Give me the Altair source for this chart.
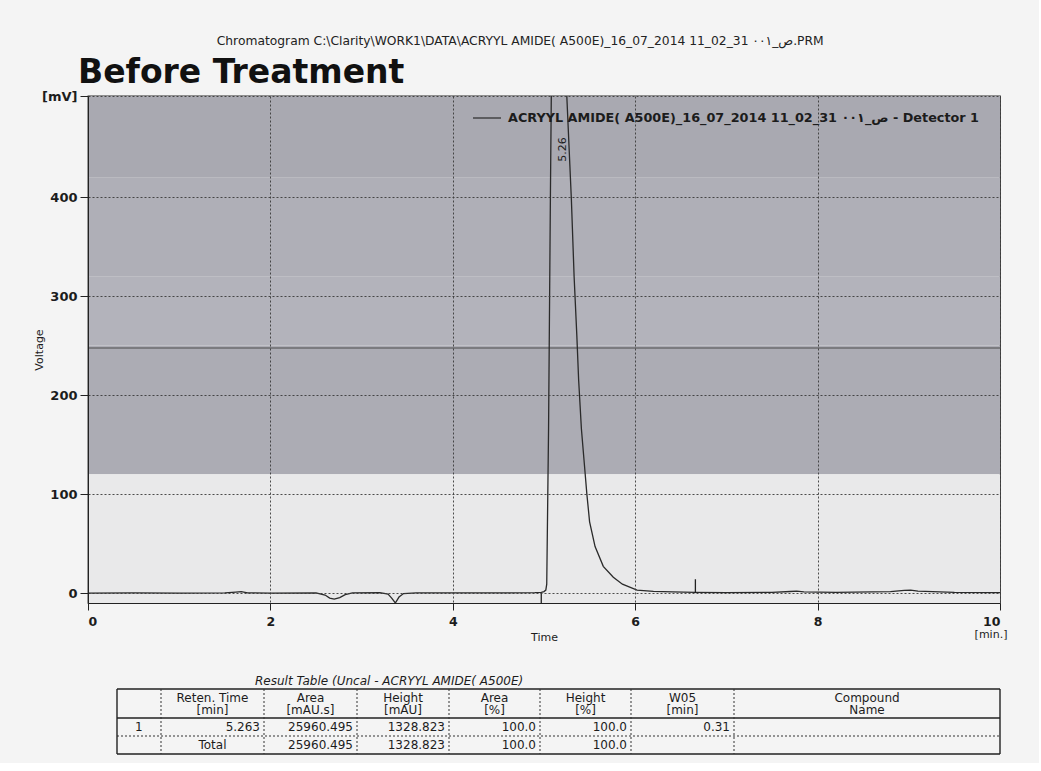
import altair as alt
import pandas as pd

# ---------------- data ----------------
time_min = [0.0, 0.5, 1.0, 1.5, 1.62, 1.68, 1.75, 2.0, 2.5, 2.6, 2.65, 2.7, 2.76, 2.82, 2.9,
            3.2, 3.29, 3.33, 3.37, 3.41, 3.46, 3.6, 4.0, 4.5, 4.9, 4.97, 5.0, 5.02, 5.03,
            5.05, 5.07, 5.08, 5.165, 5.25, 5.30, 5.33, 5.36, 5.38, 5.41, 5.45, 5.47, 5.50,
            5.56, 5.65, 5.76, 5.86, 6.02, 6.2, 6.41, 6.66, 7.0, 7.5, 7.7, 7.77, 7.85, 8.2,
            8.8, 8.95, 9.02, 9.1, 9.5, 10.0]
signal_mv = [0.0, 0.3, 0.0, 0.2, 1.0, 1.5, 0.3, 0.0, 0.2, -2.0, -5.0, -6.0, -4.5, -1.5, 0.3,
             0.5, -1.0, -5.0, -10.0, -4.0, -0.5, 0.2, 0.3, 0.2, 0.5, 0.8, 1.5, 3.0, 9.0,
             166.0, 398.0, 502.0, 1328.0, 502.0, 398.0, 320.0, 260.0, 215.0, 166.0, 122.0,
             100.0, 72.0, 47.0, 27.0, 16.0, 9.0, 3.0, 1.8, 1.2, 0.8, 0.5, 0.8, 1.6, 2.0,
             1.2, 0.8, 1.5, 2.8, 3.0, 2.0, 0.8, 0.5]
series_name = "ACRYYL AMIDE( A500E)_16_07_2014 11_02_31 ص_٠٠١ - Detector 1"

peak_rt = [5.26]
peak_text = ["5.26"]
peak_text_mv = [448]

marker_t = [4.97, 6.66]
marker_from = [0, 0]
marker_to = [-10, 14]

scan_line_mv = [247.5]

band_lo = [120, 250, 320, 420, -10]
band_hi = [250, 320, 420, 502, 120]
band_col = ["#acacb4", "#b3b3bb", "#afafb7", "#a9a9b1", "#e9e9ea"]

x_ticks = [0, 2, 4, 6, 8, 10]
y_ticks = [0, 100, 200, 300, 400, 502]

hdr1 = ["", "Reten. Time", "Area", "Height", "Area", "Height", "W05", "Compound"]
hdr2 = ["", "[min]", "[mAU.s]", "[mAU]", "[%]", "[%]", "[min]", "Name"]
row1 = ["1", "5.263", "25960.495", "1328.823", "100.0", "100.0", "0.31", ""]
row2 = ["", "Total", "25960.495", "1328.823", "100.0", "100.0", "", ""]
table_title = "Result Table (Uncal - ACRYYL AMIDE( A500E)"

main_title = "Before Treatment"
top_title = r"Chromatogram C:\Clarity\WORK1\DATA\ACRYYL AMIDE( A500E)_16_07_2014 11_02_31 ص_٠٠١.PRM"

# ---------------- layout ----------------
W, H = 912, 507
col_edges = [29, 73, 176, 269, 361, 452, 543, 646, 912]
TW, TH = 912, 82
row_lines = [16, 45, 63, 81]

FONT = "DejaVu Sans"
INK = "#1c1c1c"

xs = alt.Scale(domain=[0, 10], nice=False)
ys = alt.Scale(domain=[-10, 502], nice=False)

x_axis = alt.Axis(values=x_ticks, title="Time", format="d", grid=True,
                  gridDash=[2, 2], gridColor="#3a3a3a", gridOpacity=0.9,
                  tickSize=7, labelPadding=5, titlePadding=4,
                  labelFontWeight="bold", labelFontSize=12.5, labelFont=FONT,
                  titleFont=FONT, titleFontSize=11, titleFontWeight="normal",
                  labelColor=INK, titleColor=INK, tickColor="#222",
                  domainColor="#222", zindex=1)
y_axis = alt.Axis(values=y_ticks, title="Voltage", grid=True,
                  gridDash=[2, 2], gridColor="#3a3a3a", gridOpacity=0.9,
                  labelExpr="datum.value > 450 ? '[mV]' : datum.label",
                  format="d", tickSize=8, labelPadding=3, titleX=-44,
                  labelFontWeight="bold", labelFontSize=13, labelFont=FONT,
                  titleFont=FONT, titleFontSize=11, titleFontWeight="normal",
                  labelColor=INK, titleColor=INK, tickColor="#222",
                  domainColor="#222", zindex=1)

bands = pd.DataFrame({"x0": 0, "x1": 10, "lo": band_lo, "hi": band_hi, "c": band_col})
trace = pd.DataFrame({"t": time_min, "v": signal_mv, "s": series_name})
peak = pd.DataFrame({"t": peak_rt, "v": peak_text_mv, "txt": peak_text})
markers = pd.DataFrame({"t": marker_t, "a": marker_from, "b": marker_to})
scan = pd.DataFrame({"x0": 0, "x1": 10, "v": scan_line_mv})
unit_df = pd.DataFrame({"t": [10], "u": ["[min.]"]})


def X(f):
    return alt.X(f, scale=xs, axis=x_axis)


def Y(f):
    return alt.Y(f, scale=ys, axis=y_axis)


bg = alt.Chart(bands).mark_rect().encode(
    x=X("x0:Q"), x2="x1:Q", y=Y("lo:Q"), y2="hi:Q", color=alt.Color("c:N", scale=None))

scan_rule = alt.Chart(scan).mark_rule(color="#4a4a4a", strokeWidth=1.1).encode(
    x=X("x0:Q"), x2="x1:Q", y=Y("v:Q"))

line = alt.Chart(trace).mark_line(strokeWidth=1.3, clip=True).encode(
    x=X("t:Q"), y=Y("v:Q"),
    color=alt.Color("s:N", scale=alt.Scale(range=["#2a2a2a"]),
                    legend=alt.Legend(orient="none", legendX=384, legendY=7, title=None,
                                      symbolType="stroke",
                                      symbolSize=784, symbolStrokeWidth=1.2,
                                      labelFont=FONT, labelFontSize=12.8,
                                      labelFontWeight="bold", labelColor=INK,
                                      labelLimit=800, labelOffset=6, padding=0)),
)

mk = alt.Chart(markers).mark_rule(color="#222", strokeWidth=1.3).encode(
    x=X("t:Q"), y=Y("a:Q"), y2="b:Q")

ptxt = alt.Chart(peak).mark_text(angle=270, font=FONT, fontSize=11, color=INK,
                                 dy=-5, align="center", baseline="middle").encode(
    x=X("t:Q"), y=Y("v:Q"), text="txt:N")

unit = alt.Chart(unit_df).mark_text(
    font=FONT, fontSize=11, fontWeight="normal", color=INK, dx=-9).encode(
    x=X("t:Q"), y=alt.value(H + 32), text="u:N")

main = alt.layer(bg, scan_rule, line, mk, ptxt, unit).properties(
    width=W, height=H,
    title=alt.TitleParams(main_title, anchor="start", frame="group", font=FONT,
                          fontSize=33, fontWeight="bold", color="#111", dx=-10, offset=0),
)

# ---------------- result table ----------------
tx = alt.Scale(domain=[0, TW], nice=False)
ty = alt.Scale(domain=[0, TH], nice=False, reverse=True)

cells = []
n = len(hdr1)
for i in range(n):
    l, r = col_edges[i], col_edges[i + 1]
    c = (l + r) / 2
    cells.append({"x": c, "y": 25, "t": hdr1[i], "al": "center"})
    cells.append({"x": c, "y": 37, "t": hdr2[i], "al": "center"})
    if i == 0:
        cells.append({"x": l + 18, "y": 54, "t": row1[i], "al": "left"})
    elif row1[i]:
        cells.append({"x": r - 4, "y": 54, "t": row1[i], "al": "right"})
    if i == 1:
        cells.append({"x": c, "y": 72, "t": row2[i], "al": "center"})
    elif row2[i]:
        cells.append({"x": r - 4, "y": 72, "t": row2[i], "al": "right"})
cells_df = pd.DataFrame(cells)


def TX(f):
    return alt.X(f, scale=tx, axis=None)


def TY(f):
    return alt.Y(f, scale=ty, axis=None)


def txt_layer(al):
    return alt.Chart(cells_df[cells_df.al == al]).mark_text(
        font=FONT, fontSize=12, color=INK, align=al, baseline="middle").encode(
        x=TX("x:Q"), y=TY("y:Q"), text="t:N")


hl = pd.DataFrame({"y": row_lines, "x0": col_edges[0], "x1": col_edges[-1],
                   "kind": ["solid", "solid", "dot", "solid"]})
vl = pd.DataFrame({"x": col_edges, "y0": row_lines[0], "y1": row_lines[-1],
                   "kind": ["solid"] + ["dot"] * (len(col_edges) - 2) + ["solid"]})

h_solid = alt.Chart(hl[hl.kind == "solid"]).mark_rule(color="#222", strokeWidth=1.4).encode(
    x=TX("x0:Q"), x2="x1:Q", y=TY("y:Q"))
h_dot = alt.Chart(hl[hl.kind == "dot"]).mark_rule(color="#333", strokeWidth=1,
                                                   strokeDash=[2, 2]).encode(
    x=TX("x0:Q"), x2="x1:Q", y=TY("y:Q"))
v_solid = alt.Chart(vl[vl.kind == "solid"]).mark_rule(color="#222", strokeWidth=1.4).encode(
    x=TX("x:Q"), y=TY("y0:Q"), y2="y1:Q")
v_dot = alt.Chart(vl[vl.kind == "dot"]).mark_rule(color="#333", strokeWidth=1,
                                                   strokeDash=[2, 2]).encode(
    x=TX("x:Q"), y=TY("y0:Q"), y2="y1:Q")

ttl = alt.Chart(pd.DataFrame({"x": [167], "y": [8], "t": [table_title]})).mark_text(
    font=FONT, fontSize=12, fontStyle="italic", color=INK, align="left",
    baseline="middle").encode(x=TX("x:Q"), y=TY("y:Q"), text="t:N")

table = alt.layer(h_solid, h_dot, v_solid, v_dot, txt_layer("center"), txt_layer("left"),
                  txt_layer("right"), ttl).properties(
    width=TW, height=TH, view=alt.ViewBackground(stroke=None))

chart = alt.vconcat(main, table, spacing=29).resolve_scale(color="independent").properties(
    title=alt.TitleParams(top_title, anchor="middle", font=FONT, fontSize=12.3,
                          fontWeight="normal", color="#222", offset=9),
    padding={"left": 32, "top": 35, "right": 30, "bottom": 8},
).configure(background="#f4f4f4").configure_view(stroke="#2a2a2a", strokeWidth=1.3)

chart.save("out.html", embed_options={"renderer": "svg", "actions": False})
